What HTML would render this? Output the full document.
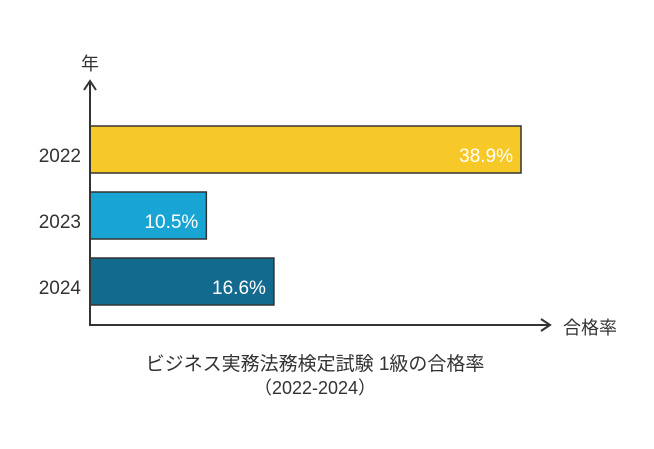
<!DOCTYPE html>
<html><head><meta charset="utf-8"><style>
body{margin:0;background:#fff;width:654px;height:444px;overflow:hidden;font-family:"Liberation Sans","Noto Sans CJK JP",sans-serif}
</style></head><body>
<svg width="654" height="444" id="chart" font-family="Liberation Sans, Noto Sans CJK JP, sans-serif">
<g id="bars"></g>
<line x1="90" y1="325" x2="90" y2="82" stroke="#333" stroke-width="2"/>
<polyline points="84,90 90,81 96,90" fill="none" stroke="#333" stroke-width="2"/>
<line x1="89" y1="325" x2="549" y2="325" stroke="#333" stroke-width="2"/>
<polyline points="541,319 550,325 541,331" fill="none" stroke="#333" stroke-width="2"/>
<text x="90" y="70" font-size="18" fill="#333" text-anchor="middle">年</text>
<text x="590" y="334" font-size="18" fill="#333" text-anchor="middle">合格率</text>
<text x="315" y="370" font-size="19" fill="#333" text-anchor="middle">ビジネス実務法務検定試験 1級の合格率</text>
<text x="315" y="394" font-size="18" fill="#333" text-anchor="middle">（2022-2024）</text>
</svg>
<script>
const categories=["2022","2023","2024"];
const values=[38.9,10.5,16.6];
const colors=["#F6C928","#18A5D3","#136A8F"];
const x0=90,pxPer=11.08;
const xs=v=>x0+v*pxPer;
const band=i=>126+i*66;
const g=document.getElementById('bars');
const ns="http://www.w3.org/2000/svg";
categories.forEach((c,i)=>{
 const r=document.createElementNS(ns,'rect');
 r.setAttribute('x',x0);r.setAttribute('y',band(i));
 r.setAttribute('width',xs(values[i])-x0);r.setAttribute('height',47);
 r.setAttribute('fill',colors[i]);r.setAttribute('stroke','#333');r.setAttribute('stroke-width','1.5');
 
 
 g.appendChild(r);
 const t=document.createElementNS(ns,'text');
 t.setAttribute('x',xs(values[i])-8);t.setAttribute('y',band(i)+36);
 t.setAttribute('text-anchor','end');t.setAttribute('font-size','19');t.setAttribute('fill','#fff');
 t.textContent=values[i].toFixed(1)+'%';
 
 
 g.appendChild(t);
 const l=document.createElementNS(ns,'text');
 l.setAttribute('x',81);l.setAttribute('y',band(i)+36);
 l.setAttribute('text-anchor','end');l.setAttribute('font-size','19');l.setAttribute('fill','#333');
 l.textContent=c;
 
 
 g.appendChild(l);
});
</script>
</body></html>
